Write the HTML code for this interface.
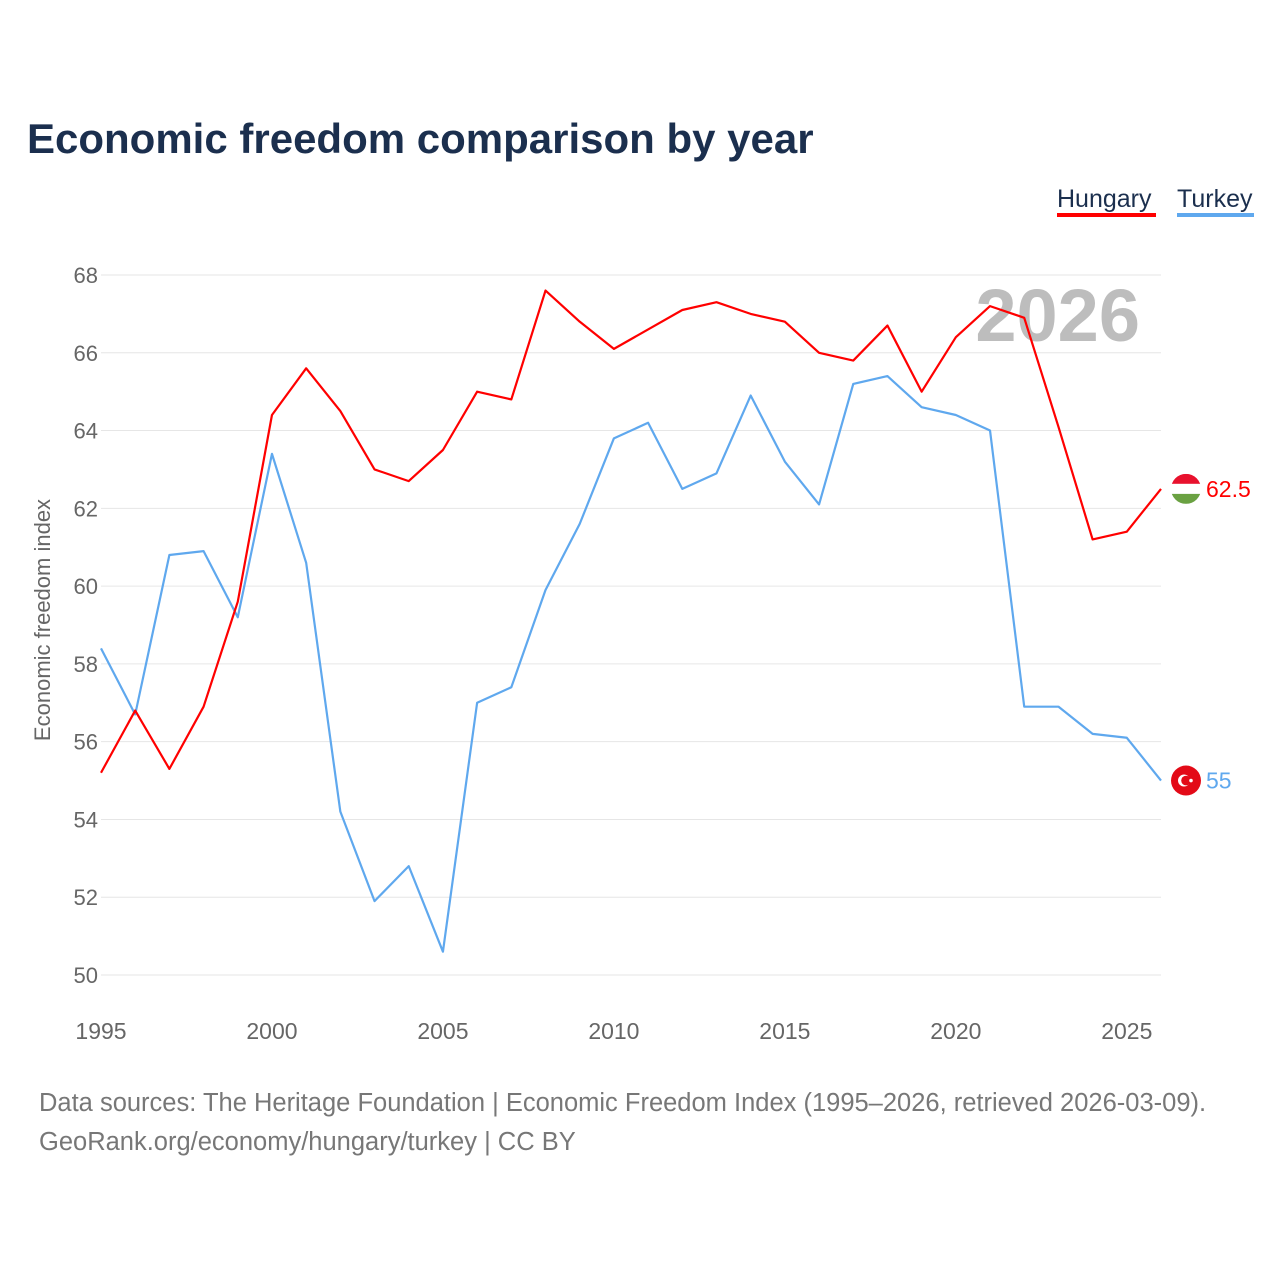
<!DOCTYPE html>
<html><head><meta charset="utf-8"><style>
body{margin:0;background:#fff;font-family:"Liberation Sans",sans-serif;}
svg text{font-family:"Liberation Sans",sans-serif;}
</style></head><body>
<svg width="1280" height="1280" xmlns="http://www.w3.org/2000/svg">
<text x="27" y="153" font-size="42" font-weight="bold" fill="#1b2f4e">Economic freedom comparison by year</text>
<g>
<g><text x="1057" y="207" font-size="25" fill="#1b2f4e">Hungary</text><rect x="1057" y="213" width="99" height="4" fill="#f00"/></g>
<g><text x="1177" y="207" font-size="25" fill="#1b2f4e">Turkey</text><rect x="1177" y="213" width="77" height="4" fill="#5fa8ee"/></g>
</g>
<text x="1140" y="341" font-size="74" font-weight="bold" fill="#bdbdbd" text-anchor="end">2026</text>
<g id="grid"></g>
<g id="yt"></g>
<g id="xt"></g>
<text transform="translate(50,620) rotate(-90)" font-size="22" fill="#666" text-anchor="middle">Economic freedom index</text>
<g id="series"></g>
<text x="39" y="1111" font-size="25.5" fill="#777">Data sources: The Heritage Foundation | Economic Freedom Index (1995–2026, retrieved 2026-03-09).</text>
<text x="39" y="1150" font-size="25.5" fill="#777">GeoRank.org/economy/hungary/turkey | CC BY</text>
</svg>
<script>
const years=[1995,1996,1997,1998,1999,2000,2001,2002,2003,2004,2005,2006,2007,2008,2009,2010,2011,2012,2013,2014,2015,2016,2017,2018,2019,2020,2021,2022,2023,2024,2025,2026];
const hungary=[55.2,56.8,55.3,56.9,59.6,64.4,65.6,64.5,63.0,62.7,63.5,65.0,64.8,67.6,66.8,66.1,66.6,67.1,67.3,67.0,66.8,66.0,65.8,66.7,65.0,66.4,67.2,66.9,64.1,61.2,61.4,62.5];
const turkey=[58.4,56.7,60.8,60.9,59.2,63.4,60.6,54.2,51.9,52.8,50.6,57.0,57.4,59.9,61.6,63.8,64.2,62.5,62.9,64.9,63.2,62.1,65.2,65.4,64.6,64.4,64.0,56.9,56.9,56.2,56.1,55.0];
const yTicks=[50,52,54,56,58,60,62,64,66,68];
const xTicks=[1995,2000,2005,2010,2015,2020,2025];
const NS="http://www.w3.org/2000/svg";
const X=v=>101+(v-1995)*(1161-101)/31;
const Y=v=>975-(v-50)*700/18;
function mk(t,a,p){const e=document.createElementNS(NS,t);for(const k in a)e.setAttribute(k,a[k]);p.appendChild(e);return e;}
const grid=document.getElementById('grid'),yt=document.getElementById('yt'),xt=document.getElementById('xt'),ser=document.getElementById('series');
yTicks.forEach(v=>{
 const l=mk('line',{x1:101,x2:1161,y1:Y(v),y2:Y(v),stroke:'#e6e6e6','stroke-width':1},grid);
 
 
 const t=mk('text',{x:98,y:Y(v)+8,'font-size':22,fill:'#666','text-anchor':'end'},yt);
 t.textContent=v;
 
 
});
xTicks.forEach(v=>{
 const t=mk('text',{x:X(v),y:1039,'font-size':23,fill:'#666','text-anchor':'middle'},xt);
 t.textContent=v;
 
 
});
function line(vals,color,name){
 const p=mk('polyline',{points:vals.map((v,i)=>X(years[i])+','+Y(v)).join(' '),fill:'none',stroke:color,'stroke-width':2.2,'stroke-linejoin':'round'},ser);
 
 
}
line(turkey,'#5fa8ee','turkey-line');
line(hungary,'#f00','hungary-line');
const hy=Y(hungary[hungary.length-1]),ty=Y(turkey[turkey.length-1]);
const defs=mk('defs',{},ser);
const cp=mk('clipPath',{id:'hc'},defs);
mk('circle',{cx:1186,cy:hy,r:15},cp);
const hf=mk('g',{'clip-path':'url(#hc)'},ser);


mk('rect',{x:1171,y:hy-15,width:30,height:10,fill:'#e8112d'},hf);
mk('rect',{x:1171,y:hy-5,width:30,height:10,fill:'#fff'},hf);
mk('rect',{x:1171,y:hy+5,width:30,height:10,fill:'#6aa142'},hf);
const ht=mk('text',{x:1206,y:hy+8,'font-size':23,fill:'#f00'},ser);
ht.textContent=hungary[hungary.length-1];


const tf=mk('g',{},ser);


mk('circle',{cx:1186,cy:ty,r:15,fill:'#e30a17'},tf);
mk('circle',{cx:1184,cy:ty,r:6,fill:'#fff'},tf);
mk('circle',{cx:1186,cy:ty,r:4.8,fill:'#e30a17'},tf);
mk('circle',{cx:1191,cy:ty,r:1.8,fill:'#fff'},tf);
const tt=mk('text',{x:1206,y:ty+8,'font-size':23,fill:'#5fa8ee'},ser);
tt.textContent=turkey[turkey.length-1];


</script>
</body></html>
